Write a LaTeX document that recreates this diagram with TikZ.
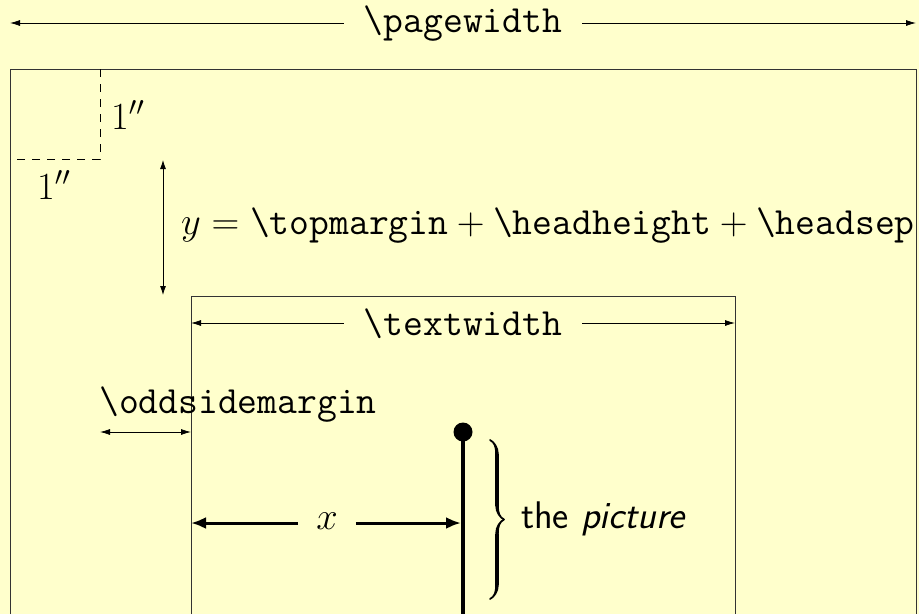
\RequirePackage{fix-cm}
\documentclass[tikz,border=0pt]{standalone}
\usetikzlibrary{arrows.meta,decorations.pathreplacing,calligraphy}
\definecolor{bgyellow}{HTML}{FFFFCC}
\tikzset{
  big/.style={font=\fontsize{38.5}{46}\selectfont},
  bigtt/.style={font=\fontsize{38.5}{46}\selectfont\ttfamily},
  frame/.style={line width=1pt, black!80},
  thinarr/.style={line width=0.8pt, -{Latex[length=10pt,width=6pt]}},
  thickarr/.style={line width=3pt, -{Latex[length=15pt,width=12pt]}},
  gap/.style={inner xsep=20pt, inner ysep=0pt},
  dashline/.style={line width=0.9pt, dash pattern=on 8pt off 7pt},
}
\begin{document}
\begin{tikzpicture}[x=1pt,y=-1pt]
\fill[bgyellow] (0,0) rectangle (919,614);
\useasboundingbox (0,0) rectangle (919,614);

% page width
\coordinate (pwL) at (10,23);
\coordinate (pwR) at (916,23);
\node[bigtt, gap] (pw) at (463,24) {\textbackslash pagewidth};
\draw[thinarr] (pw.west |- pwL) -- (pwL);
\draw[thinarr] (pw.east |- pwR) -- (pwR);

% page frame
\draw[frame] (10,614) -- (10,69) -- (916,69) -- (916,614);

% one inch dashes
\coordinate (inchTop) at (100,69);
\coordinate (inchCorner) at (100,159);
\coordinate (inchLeft) at (10,159);
\draw[dashline] (inchTop) -- (inchCorner) -- (inchLeft);
\node[big, anchor=base west, inner sep=0pt] (oneA) at (111,129) {$1''$};
\node[big, anchor=base west, inner sep=0pt] (oneB) at (37,199) {$1''$};

% vertical y arrow
\coordinate (yTop) at (163,160);
\coordinate (yBot) at (163,295);
\draw[line width=0.8pt, {Latex[length=9pt,width=6pt]}-{Latex[length=9pt,width=6pt]}] (yTop) -- (yBot);
\node[big, anchor=base west, inner sep=0pt] (ylab) at (181,234)
  {$y = \texttt{\textbackslash topmargin} + \texttt{\textbackslash headheight} + \texttt{\textbackslash headsep}$};

% text area frame
\draw[frame] (191,614) -- (191,296) -- (735,296) -- (735,614);

% text width
\coordinate (twL) at (191,323);
\coordinate (twR) at (735,323);
\node[bigtt, gap] (tw) at (463,324) {\textbackslash textwidth};
\draw[thinarr] (tw.west |- twL) -- (twL);
\draw[thinarr] (tw.east |- twR) -- (twR);

% odd side margin
\node[bigtt, anchor=base west, inner sep=0pt] (osm) at (99,413) {\textbackslash oddsidemargin};
\coordinate (osmL) at (100,432);
\coordinate (osmR) at (191,432);
\draw[line width=0.8pt, {Latex[length=10pt,width=6pt]}-{Latex[length=10pt,width=6pt]}] (osmL) -- (osmR);

% the picture
\coordinate (dot) at (463,432);
\coordinate (dotBot) at (463,614);
\draw[line width=4.5pt] (dot) -- (dotBot);
\fill (dot) circle (9.5pt);

% x arrow
\coordinate (xL) at (191,523);
\coordinate (xR) at (461,523);
\node[big, inner xsep=18pt, inner ysep=0pt] (xlab) at (327,521) {$x$};
\draw[thickarr] (xlab.west |- xL) -- (xL);
\draw[thickarr] (xlab.east |- xR) -- (xR);

% brace
\coordinate (brTop) at (490,440);
\coordinate (brBot) at (490,599);
\draw[decorate, decoration={calligraphic brace, amplitude=14pt}, line width=3.5pt] (brTop) -- (brBot);
\node[big, anchor=base west, inner sep=0pt] (pic) at (521,528) {\sffamily the \textit{picture}};
\end{tikzpicture}
\end{document}
